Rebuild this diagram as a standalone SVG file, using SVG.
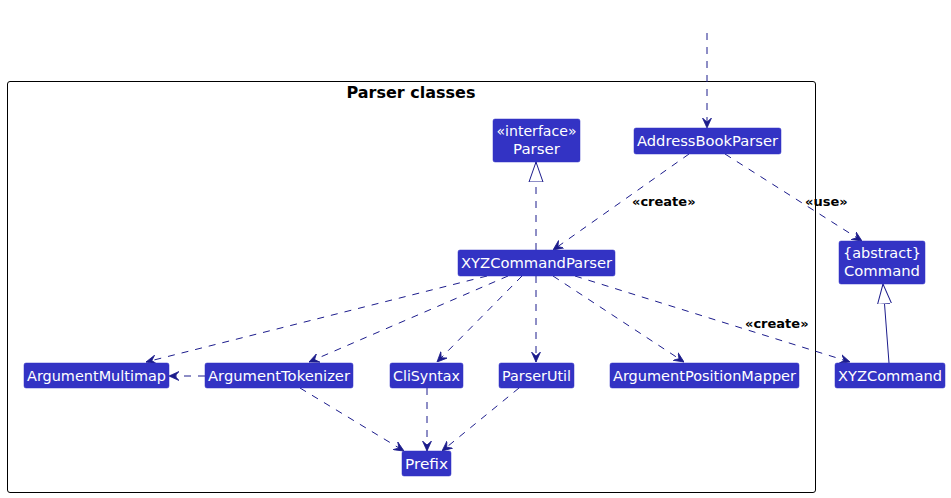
<svg xmlns="http://www.w3.org/2000/svg" width="951" height="498" viewBox="0 0 951 498">
<defs>
<style>
.node rect{fill:#3333C4;stroke:#3333C4;stroke-width:0.5}
.node text{fill:#FFFFFF;font-family:"DejaVu Sans",sans-serif;font-size:14px;text-anchor:middle}
.dep{fill:none;stroke:#1C1C8C;stroke-width:1;stroke-dasharray:7,7}
.solid{fill:none;stroke:#1C1C8C;stroke-width:1}
.lbl{font-family:"DejaVu Sans",sans-serif;font-size:13px;font-weight:bold;fill:#000000}
</style>
<marker id="arr" viewBox="0 0 10 10" refX="10" refY="5" markerWidth="10" markerHeight="10" markerUnits="userSpaceOnUse" orient="auto">
<path d="M0,0.5 L10,5 L0,9.5 L4,5 Z" fill="#1C1C8C" stroke="#1C1C8C" stroke-width="0.8" stroke-linejoin="round"/>
</marker>
<marker id="tri" viewBox="0 0 20 16" refX="20" refY="8" markerWidth="20" markerHeight="16" markerUnits="userSpaceOnUse" orient="auto">
<path d="M20,8 L0,1 L0,15 Z" fill="#FFFFFF" stroke="#1C1C8C" stroke-width="1"/>
</marker>
</defs>
<rect width="951" height="498" fill="#FFFFFF"/>
<g id="package">
<rect x="7.5" y="81.5" width="808" height="411" rx="2.5" fill="none" stroke="#000000" stroke-width="1"/>
<text x="411" y="98" font-family="DejaVu Sans,sans-serif" font-size="15" font-weight="bold" text-anchor="middle" textLength="129" lengthAdjust="spacingAndGlyphs">Parser classes</text>
</g>
<g id="connectors">
<line class="dep" x1="707" y1="33" x2="707" y2="128" marker-end="url(#arr)"/>
<line class="dep" x1="536" y1="250" x2="536" y2="162" marker-end="url(#tri)"/>
<line class="dep" x1="689" y1="154" x2="553" y2="250" marker-end="url(#arr)"/>
<text class="lbl" x="632" y="206">«create»</text>
<line class="dep" x1="725" y1="154" x2="862" y2="241" marker-end="url(#arr)"/>
<text class="lbl" x="805" y="206">«use»</text>
<line class="solid" x1="889" y1="363" x2="883" y2="284" marker-end="url(#tri)"/>
<line class="dep" x1="487" y1="276" x2="146" y2="362" marker-end="url(#arr)"/>
<line class="dep" x1="508" y1="276" x2="309" y2="362" marker-end="url(#arr)"/>
<line class="dep" x1="522" y1="276" x2="437" y2="362" marker-end="url(#arr)"/>
<line class="dep" x1="536" y1="276" x2="536" y2="362" marker-end="url(#arr)"/>
<line class="dep" x1="553" y1="276" x2="684" y2="362" marker-end="url(#arr)"/>
<line class="dep" x1="575" y1="276" x2="850" y2="362" marker-end="url(#arr)"/>
<text class="lbl" x="745" y="328">«create»</text>
<line class="dep" x1="205" y1="376" x2="169" y2="376" marker-end="url(#arr)"/>
<line class="dep" x1="300" y1="388" x2="404" y2="451" marker-end="url(#arr)"/>
<line class="dep" x1="427" y1="388" x2="427" y2="451" marker-end="url(#arr)"/>
<line class="dep" x1="519" y1="388" x2="442" y2="451" marker-end="url(#arr)"/>
</g>
<g id="Parser" class="node"><rect x="493" y="119" width="87" height="43" rx="2"/><text x="536.5" y="136" textLength="80" lengthAdjust="spacingAndGlyphs">«interface»</text><text x="536.5" y="154" textLength="47" lengthAdjust="spacingAndGlyphs">Parser</text></g>
<g id="AddressBookParser" class="node"><rect x="634" y="128" width="147" height="26" rx="2"/><text x="707.5" y="146" textLength="141" lengthAdjust="spacingAndGlyphs">AddressBookParser</text></g>
<g id="XYZCommandParser" class="node"><rect x="458" y="250" width="157" height="26" rx="2"/><text x="536.5" y="268" textLength="151" lengthAdjust="spacingAndGlyphs">XYZCommandParser</text></g>
<g id="Command" class="node"><rect x="839" y="241" width="86" height="43" rx="2"/><text x="882" y="258" textLength="78" lengthAdjust="spacingAndGlyphs">{abstract}</text><text x="882" y="276" textLength="76" lengthAdjust="spacingAndGlyphs">Command</text></g>
<g id="ArgumentMultimap" class="node"><rect x="24" y="363" width="145" height="25" rx="2"/><text x="96.5" y="381" textLength="139" lengthAdjust="spacingAndGlyphs">ArgumentMultimap</text></g>
<g id="ArgumentTokenizer" class="node"><rect x="205" y="363" width="148" height="25" rx="2"/><text x="279" y="381" textLength="142" lengthAdjust="spacingAndGlyphs">ArgumentTokenizer</text></g>
<g id="CliSyntax" class="node"><rect x="390" y="363" width="73" height="25" rx="2"/><text x="426.5" y="381" textLength="67" lengthAdjust="spacingAndGlyphs">CliSyntax</text></g>
<g id="ParserUtil" class="node"><rect x="499" y="363" width="75" height="25" rx="2"/><text x="536.5" y="381" textLength="69" lengthAdjust="spacingAndGlyphs">ParserUtil</text></g>
<g id="ArgumentPositionMapper" class="node"><rect x="610" y="363" width="189" height="25" rx="2"/><text x="704.5" y="381" textLength="183" lengthAdjust="spacingAndGlyphs">ArgumentPositionMapper</text></g>
<g id="XYZCommand" class="node"><rect x="835" y="363" width="110" height="25" rx="2"/><text x="890" y="381" textLength="104" lengthAdjust="spacingAndGlyphs">XYZCommand</text></g>
<g id="Prefix" class="node"><rect x="402" y="451" width="49" height="25" rx="2"/><text x="426.5" y="469" textLength="43" lengthAdjust="spacingAndGlyphs">Prefix</text></g>
</svg>
